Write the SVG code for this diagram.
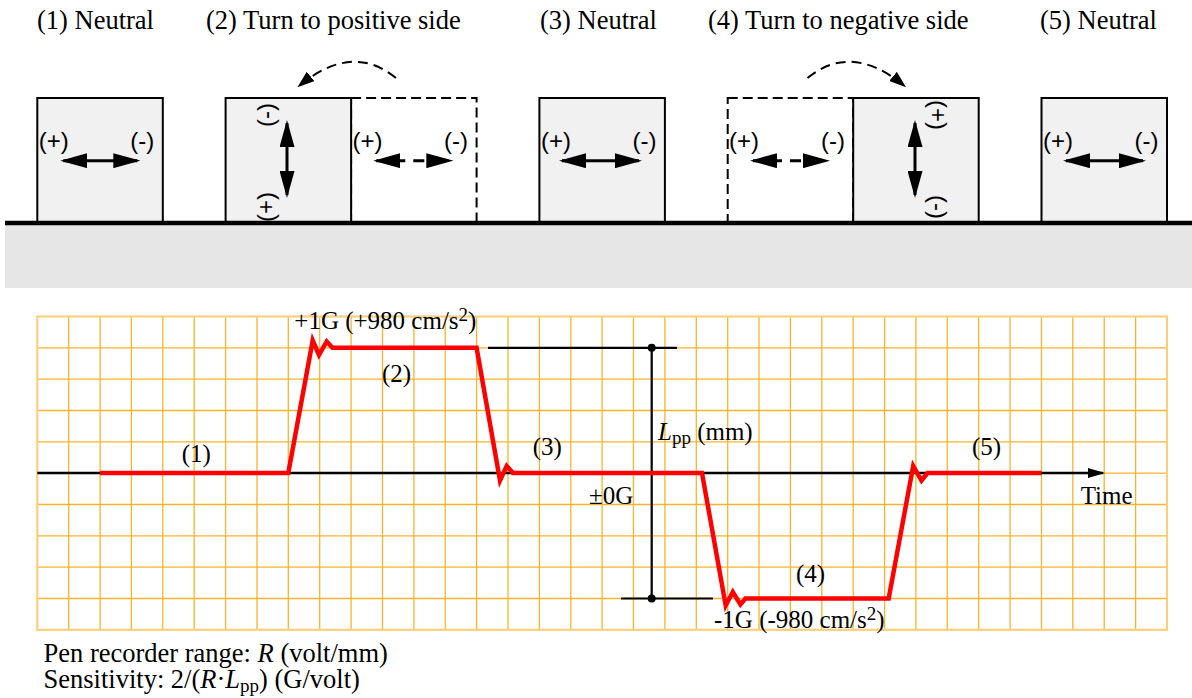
<svg xmlns="http://www.w3.org/2000/svg" width="1192" height="698" viewBox="0 0 1192 698">
<style>
.t{font-family:"Liberation Serif","Times New Roman",serif;fill:#000}
.title{font-size:26.5px}
.g{font-size:25px}
.lbl{font-family:"Liberation Sans",Arial,sans-serif;font-size:24px;fill:#000}
.box{fill:#f1f1f1;stroke:#000;stroke-width:2}
.dbox{fill:#fff;stroke:#000;stroke-width:2;stroke-dasharray:10 5}
.arr{stroke:#000;stroke-width:3;fill:none;marker-start:url(#ah);marker-end:url(#ah)}
.darr{stroke:#000;stroke-width:3;fill:none;stroke-dasharray:29 8 11 40;marker-start:url(#ah);marker-end:url(#ah)}
.curve{stroke:#000;stroke-width:2;fill:none;stroke-dasharray:10 6;marker-end:url(#ahc)}
.grid{stroke:#f8b42c;stroke-width:1.3;fill:none}
.blk{stroke:#000;stroke-width:2.2;fill:none}
</style>
<defs>
<marker id="ah" viewBox="0 0 27 15" refX="24" refY="7.5" markerWidth="27" markerHeight="15" markerUnits="userSpaceOnUse" orient="auto-start-reverse"><path d="M0,0 L27,7.5 L0,15 z" fill="#000"/></marker>
<marker id="ahc" viewBox="0 0 17 12" refX="15" refY="6" markerWidth="17" markerHeight="12" markerUnits="userSpaceOnUse" orient="auto"><path d="M0,0 L17,6 L0,12 z" fill="#000"/></marker>
<marker id="aha" viewBox="0 0 17 10" refX="15" refY="5" markerWidth="17" markerHeight="10" markerUnits="userSpaceOnUse" orient="auto"><path d="M0,0 L17,5 L0,10 z" fill="#000"/></marker>
</defs>
<rect width="1192" height="698" fill="#fff"/>

<g id="titles" class="t title">
<text x="37" y="28.5">(1) Neutral</text>
<text x="206" y="28.5">(2) Turn to positive side</text>
<text x="540" y="28.5">(3) Neutral</text>
<text x="708" y="28.5">(4) Turn to negative side</text>
<text x="1040" y="28.5">(5) Neutral</text>
</g>

<g id="ground">
<rect x="5" y="224" width="1187" height="64" fill="#e6e6e6"/>
</g>

<g id="box1">
<rect class="box" x="37.3" y="98" width="125.5" height="125"/>
<text class="lbl" x="38.8" y="149">(+)</text>
<text class="lbl" x="130.3" y="149">(-)</text>
<line class="arr" x1="63.3" y1="160.7" x2="137.3" y2="160.7"/>
</g>

<g id="box2">
<rect class="dbox" x="351.1" y="98" width="125.5" height="125"/>
<rect class="box" x="225.6" y="98" width="125.5" height="125"/>
<text class="lbl" x="352.5" y="149">(+)</text>
<text class="lbl" x="444" y="149">(-)</text>
<line class="darr" x1="376.3" y1="160.7" x2="450.3" y2="160.7"/>
<text class="lbl" text-anchor="middle" transform="translate(268,115) rotate(-90)" y="6">(-)</text>
<text class="lbl" text-anchor="middle" transform="translate(268,207) rotate(-90)" y="6">(+)</text>
<line class="arr" x1="287" y1="123" x2="287" y2="195"/>
</g>

<g id="box3">
<rect class="box" x="539.4" y="98" width="125.5" height="125"/>
<text class="lbl" x="540.9" y="149">(+)</text>
<text class="lbl" x="632.4" y="149">(-)</text>
<line class="arr" x1="562" y1="160.7" x2="639" y2="160.7"/>
</g>

<g id="box4">
<rect class="dbox" x="727.7" y="98" width="125.5" height="125"/>
<rect class="box" x="853.2" y="98" width="125.5" height="125"/>
<text class="lbl" x="729" y="149">(+)</text>
<text class="lbl" x="821" y="149">(-)</text>
<line class="darr" x1="753" y1="160.7" x2="827" y2="160.7"/>
<text class="lbl" text-anchor="middle" transform="translate(936,115) rotate(90)" y="6">(+)</text>
<text class="lbl" text-anchor="middle" transform="translate(936,207) rotate(90)" y="6">(-)</text>
<line class="arr" x1="915" y1="123" x2="915" y2="195"/>
</g>

<g id="box5">
<rect class="box" x="1041.5" y="98" width="125.5" height="125"/>
<text class="lbl" x="1043" y="149">(+)</text>
<text class="lbl" x="1134.5" y="149">(-)</text>
<line class="arr" x1="1066" y1="160.7" x2="1143" y2="160.7"/>
</g>

<g id="ground-line">
<line x1="5" y1="223" x2="1192" y2="223" stroke="#000" stroke-width="4.5"/>
</g>

<g id="connectors">
<path class="curve" d="M396,78 Q352,42 299,86"/>
<path class="curve" d="M807.5,78 Q851.5,42 904.5,86"/>
</g>

<g id="chart">
<path class="grid" d="M68.7,316.5V629.8M100.1,316.5V629.8M131.4,316.5V629.8M162.8,316.5V629.8M194.2,316.5V629.8M225.6,316.5V629.8M257,316.5V629.8M288.3,316.5V629.8M319.7,316.5V629.8M351.1,316.5V629.8M382.5,316.5V629.8M413.9,316.5V629.8M445.2,316.5V629.8M476.6,316.5V629.8M508,316.5V629.8M539.4,316.5V629.8M570.8,316.5V629.8M602.1,316.5V629.8M633.5,316.5V629.8M664.9,316.5V629.8M696.3,316.5V629.8M727.7,316.5V629.8M759,316.5V629.8M790.4,316.5V629.8M821.8,316.5V629.8M853.2,316.5V629.8M884.6,316.5V629.8M915.9,316.5V629.8M947.3,316.5V629.8M978.7,316.5V629.8M1010.1,316.5V629.8M1041.5,316.5V629.8M1072.8,316.5V629.8M1104.2,316.5V629.8M1135.6,316.5V629.8M37.3,347.8H1167M37.3,379.2H1167M37.3,410.5H1167M37.3,441.8H1167M37.3,473.2H1167M37.3,504.5H1167M37.3,535.8H1167M37.3,567.1H1167M37.3,598.5H1167"/>
<rect x="37.3" y="316.5" width="1129.7" height="313.3" fill="none" stroke="#fbd07a" stroke-width="2.2"/>
<line x1="37.3" y1="473" x2="1103" y2="473" stroke="#000" stroke-width="2.5" marker-end="url(#aha)"/>
<path class="blk" d="M488,347.8H677M651.7,347.8V598.5M621,598.5H713"/>
<circle cx="651.7" cy="347.8" r="4" fill="#000"/>
<circle cx="651.7" cy="598.5" r="4" fill="#000"/>
<path d="M100.1,473 L288.3,473 L312.7,340.5 L319,355 L326.7,341.5 L332.5,347.8 L476.6,347.8 L500,480.5 L506.7,466 L513,473 L702,473 L725.7,605.5 L732.8,592 L740.4,604.5 L745.5,598.5 L888.7,598.5 L913.2,466 L921.5,480.5 L927.5,473 L1041.5,473" fill="none" stroke="#ff0000" stroke-width="4.5" stroke-linejoin="miter"/>
<g class="t g">
<text x="294.3" y="329">+1G (+980 cm/s<tspan font-size="19" dy="-8">2</tspan><tspan dy="8">)</tspan></text>
<text x="382" y="381.5">(2)</text>
<text x="181.7" y="461.5">(1)</text>
<text x="532.7" y="455">(3)</text>
<text x="972" y="455">(5)</text>
<text x="796" y="581.5">(4)</text>
<text x="658" y="440"><tspan font-style="italic">L</tspan><tspan font-size="19" dy="4">pp</tspan><tspan dy="-4"> (mm)</tspan></text>
<text x="589" y="504">±0G</text>
<text x="1080.7" y="504">Time</text>
<text x="714" y="628">-1G (-980 cm/s<tspan font-size="19" dy="-8">2</tspan><tspan dy="8">)</tspan></text>
</g>
</g>

<g id="notes" class="t title">
<text x="43.5" y="661.5">Pen recorder range: <tspan font-style="italic">R</tspan> (volt/mm)</text>
<text x="43.5" y="688">Sensitivity: 2/(<tspan font-style="italic">R</tspan>·<tspan font-style="italic">L</tspan><tspan font-size="19" dy="4">pp</tspan><tspan dy="-4">) (G/volt)</tspan></text>
</g>
</svg>
